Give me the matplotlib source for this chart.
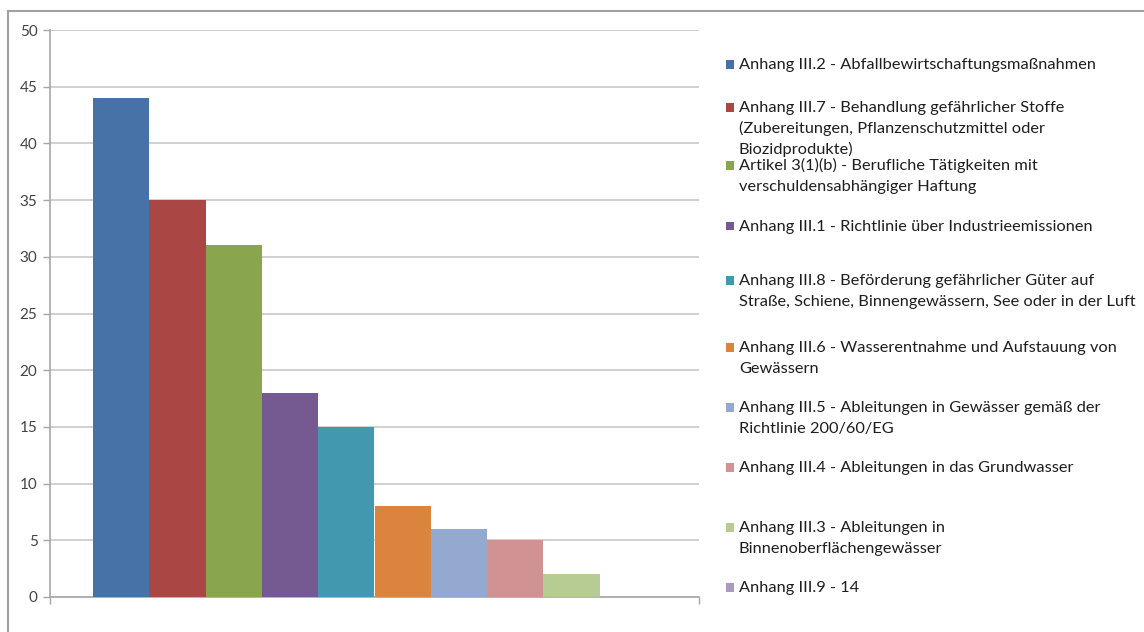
import matplotlib
matplotlib.use("Agg")
import matplotlib.pyplot as plt
from matplotlib.patches import Rectangle
from matplotlib.lines import Line2D

labels = [
    "Anhang III.2 - Abfallbewirtschaftungsmaßnahmen",
    "Anhang III.7 - Behandlung gefährlicher Stoffe\n(Zubereitungen, Pflanzenschutzmittel oder\nBiozidprodukte)",
    "Artikel 3(1)(b) - Berufliche Tätigkeiten mit\nverschuldensabhängiger Haftung",
    "Anhang III.1 - Richtlinie über Industrieemissionen",
    "Anhang III.8 - Beförderung gefährlicher Güter auf\nStraße, Schiene, Binnengewässern, See oder in der Luft",
    "Anhang III.6 - Wasserentnahme und Aufstauung von\nGewässern",
    "Anhang III.5 - Ableitungen in Gewässer gemäß der\nRichtlinie 200/60/EG",
    "Anhang III.4 - Ableitungen in das Grundwasser",
    "Anhang III.3 - Ableitungen in\nBinnenoberflächengewässer",
    "Anhang III.9 - 14",
]
values = [44, 35, 31, 18, 15, 8, 6, 5, 2, 0]
colors = ["#4672A8", "#AA4643", "#89A54E", "#745A91", "#4198AF",
          "#DB843D", "#93A9CF", "#D09292", "#B7CC93", "#A99BBD"]
yticks = [0, 5, 10, 15, 20, 25, 30, 35, 40, 45, 50]

W, H = 1144, 632
fig = plt.figure(figsize=(W / 100, H / 100), dpi=100)
fig.patch.set_facecolor("white")

ax = fig.add_axes([50 / W, (H - 597) / H, (699 - 50) / W, (597 - 30) / H])
n = len(values)
margin = 43 / 649
bw = (1 - 2 * margin) / n
for i, (v, c) in enumerate(zip(values, colors)):
    ax.bar(margin + bw * (i + 0.5), v, width=bw, color=c, edgecolor="none", zorder=3)

ax.set_xlim(0, 1)
ax.set_ylim(0, 50)
ax.set_yticks(yticks)
ax.set_yticklabels([str(t) for t in yticks], fontsize=11, color="#444444", family="Lato")
ax.set_xticks([0, 1])
ax.set_xticklabels(["", ""])
ax.tick_params(axis="y", direction="out", length=5, color="#A6A6A6", width=1, pad=4)
ax.tick_params(axis="x", direction="out", length=5, color="#A6A6A6", width=1)
ax.grid(axis="y", color="#C8C8C8", linewidth=1.2, zorder=0)
ax.set_axisbelow(True)
for s in ["top", "right"]:
    ax.spines[s].set_visible(False)
for s in ["left", "bottom"]:
    ax.spines[s].set_color("#A6A6A6")
    ax.spines[s].set_linewidth(1.2)

# legend (manual, Excel-like uneven spacing); first-line baselines in px
legend_base = [69, 112, 170, 231, 285, 352, 412, 472, 532, 592]
line_step = 21
for lab, c, yb in zip(labels, colors, legend_base):
    fig.patches.append(Rectangle((726 / W, (H - yb + 0.5) / H), 8 / W, 8.5 / H,
                                 transform=fig.transFigure, facecolor=c,
                                 edgecolor="none"))
    for k, line in enumerate(lab.split("\n")):
        fig.text(739 / W, (H - yb - k * line_step) / H, line, fontsize=11.8,
                 family="Lato", color="#1E1E1E", va="baseline", ha="left")

# outer chart border (top and left)
fig.add_artist(Line2D([8 / W, 1], [(H - 11) / H, (H - 11) / H],
                      transform=fig.transFigure, color="#A0A0A0", linewidth=1.5))
fig.add_artist(Line2D([8 / W, 8 / W], [0, (H - 11) / H],
                      transform=fig.transFigure, color="#A0A0A0", linewidth=1.5))

fig.savefig("out.png", dpi=100, facecolor="white")
